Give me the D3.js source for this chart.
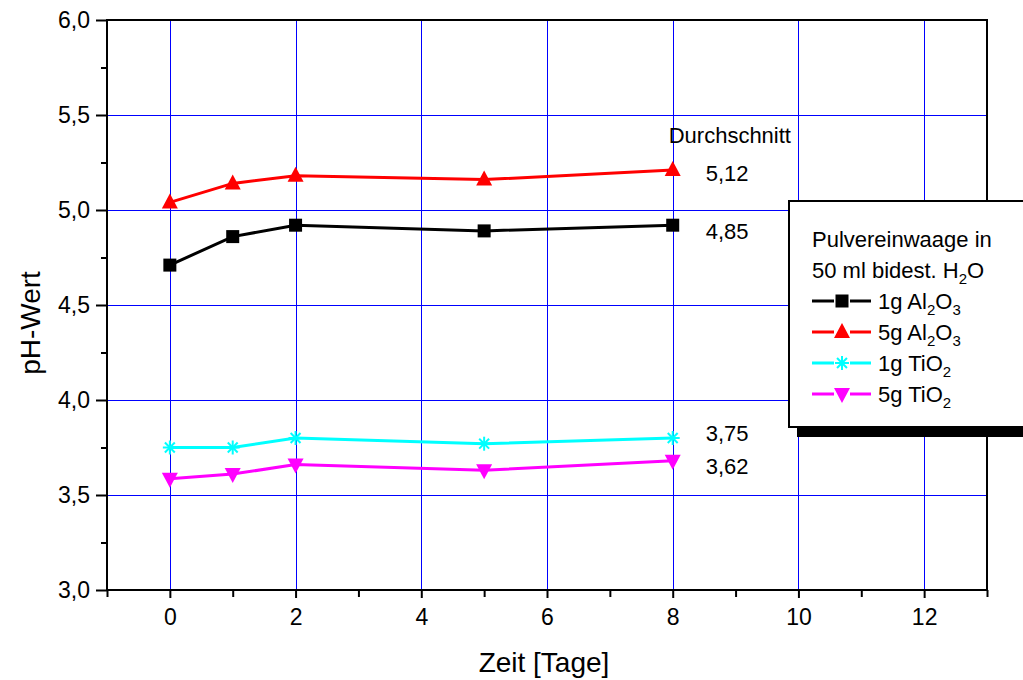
<!DOCTYPE html>
<html>
<head>
<meta charset="utf-8">
<script src="https://cdn.jsdelivr.net/npm/d3@7"></script>
<style>
  body { margin: 0; background: #fff; }
  svg { font-family: "Liberation Sans", Arial, sans-serif; }
</style>
</head>
<body>
<div id="chart"></div>
<script>
// data
const days = [0, 1, 2, 5, 8];
const al1g = [4.71, 4.86, 4.92, 4.89, 4.92];
const al5g = [5.04, 5.14, 5.18, 5.16, 5.21];
const ti1g = [3.75, 3.75, 3.80, 3.77, 3.80];
const ti5g = [3.585, 3.61, 3.66, 3.63, 3.68];
// averages printed next to the last point (label, baseline in pH units)
const averageLabels = ['5,12', '4,85', '3,75', '3,62'];
const averageBaselines = [5.155, 4.845, 3.785, 3.61];
const xTicks = [0, 2, 4, 6, 8, 10, 12];
const yTicks = [3.0, 3.5, 4.0, 4.5, 5.0, 5.5, 6.0];

const series = [
  { name: ['1g Al', '2', 'O', '3'], values: al1g, color: '#000000', symbol: 'square' },
  { name: ['5g Al', '2', 'O', '3'], values: al5g, color: '#ff0000', symbol: 'up' },
  { name: ['1g TiO', '2'], values: ti1g, color: '#00ffff', symbol: 'star' },
  { name: ['5g TiO', '2'], values: ti5g, color: '#ff00ff', symbol: 'down' }
];

const W = 1023, H = 680;
const margin = { top: 20, right: 36, bottom: 90, left: 107 };
const width = W - margin.left - margin.right;
const height = H - margin.top - margin.bottom;

const svg = d3.select('#chart').append('svg')
  .attr('width', W).attr('height', H);
const g = svg.append('g').attr('transform', `translate(${margin.left},${margin.top})`);

const x = d3.scaleLinear().domain([-1, 13]).range([0, width]);
const y = d3.scaleLinear().domain([3, 6]).range([height, 0]);

const fmt = d => d3.format('.1f')(d).replace('.', ',');

// grid
g.append('g').selectAll('line').data(xTicks).enter().append('line')
  .attr('x1', d => Math.round(x(d)) + 0.5).attr('x2', d => Math.round(x(d)) + 0.5)
  .attr('y1', 0).attr('y2', height)
  .attr('stroke', '#0000ff').attr('stroke-width', 1);
g.append('g').selectAll('line').data(yTicks.slice(1, -1)).enter().append('line')
  .attr('x1', 0).attr('x2', width)
  .attr('y1', d => Math.round(y(d)) + 0.5).attr('y2', d => Math.round(y(d)) + 0.5)
  .attr('stroke', '#0000ff').attr('stroke-width', 1);

// frame
g.append('rect').attr('x', 0).attr('y', 0).attr('width', width).attr('height', height)
  .attr('fill', 'none').attr('stroke', '#000').attr('stroke-width', 2);

// axes
g.append('g').attr('transform', `translate(0,${height})`)
  .call(d3.axisBottom(x).tickValues(xTicks).tickFormat(d3.format('d')).tickSize(8).tickPadding(11));
g.append('g').attr('transform', `translate(0,${height})`)
  .call(d3.axisBottom(x).tickValues(d3.range(-1, 14, 2)).tickFormat('').tickSize(7));
g.append('g')
  .call(d3.axisLeft(y).tickValues(yTicks).tickFormat(fmt).tickSize(11).tickPadding(6));
g.append('g')
  .call(d3.axisLeft(y).tickValues(d3.range(3.25, 6, 0.5)).tickFormat('').tickSize(6));
g.selectAll('.domain').remove();
g.selectAll('.tick line').attr('stroke', '#000').attr('stroke-width', 2);
g.selectAll('.tick text').attr('font-size', 23).attr('fill', '#000')
  .attr('font-family', '"Liberation Sans", Arial, sans-serif');

// axis titles
svg.append('text').attr('x', margin.left + x(6) - 3).attr('y', 672)
  .attr('text-anchor', 'middle').attr('font-size', 28).text('Zeit [Tage]');
svg.append('text').attr('transform', 'translate(40,323) rotate(-90)')
  .attr('text-anchor', 'middle').attr('font-size', 28).text('pH-Wert');

// markers
function drawMarker(sel, symbol, color) {
  if (symbol === 'square') {
    sel.append('rect').attr('x', -6.5).attr('y', -6.5).attr('width', 13).attr('height', 13).attr('fill', color);
  } else if (symbol === 'up') {
    sel.append('path').attr('d', 'M0,-9L8,6L-8,6Z').attr('fill', color);
  } else if (symbol === 'down') {
    sel.append('path').attr('d', 'M0,9L8,-6L-8,-6Z').attr('fill', color);
  } else {
    const r = 7;
    [0, 45, 90, 135].forEach(a => {
      const rad = a * Math.PI / 180;
      sel.append('line')
        .attr('x1', -r * Math.cos(rad)).attr('y1', -r * Math.sin(rad))
        .attr('x2', r * Math.cos(rad)).attr('y2', r * Math.sin(rad))
        .attr('stroke', color).attr('stroke-width', 2);
    });
  }
}

const line = d3.line().x(d => x(d[0])).y(d => y(d[1]));
series.forEach(s => {
  const pts = days.map((d, i) => [d, s.values[i]]);
  g.append('path').datum(pts).attr('d', line)
    .attr('fill', 'none').attr('stroke', s.color).attr('stroke-width', 3);
  pts.forEach(p => {
    const m = g.append('g').attr('transform', `translate(${x(p[0])},${y(p[1])})`);
    drawMarker(m, s.symbol, s.color);
  });
});

// averages
g.append('text').attr('x', x(8) - 4).attr('y', y(5.355)).attr('font-size', 22).text('Durchschnitt');
averageLabels.forEach((lab, i) => {
  g.append('text').attr('x', x(8) + 33).attr('y', y(averageBaselines[i])).attr('font-size', 22).text(lab);
});

// legend
const lg = svg.append('g').attr('transform', 'translate(789,201)');
lg.append('rect').attr('x', 8).attr('y', 8).attr('width', 260).attr('height', 228).attr('fill', '#000');
lg.append('rect').attr('x', 0).attr('y', 0).attr('width', 260).attr('height', 226)
  .attr('fill', '#fff').attr('stroke', '#000').attr('stroke-width', 2);
lg.append('text').attr('x', 23).attr('y', 46).attr('font-size', 22).text('Pulvereinwaage in');
const t2 = lg.append('text').attr('x', 23).attr('y', 77).attr('font-size', 22);
t2.append('tspan').text('50 ml bidest. H');
t2.append('tspan').attr('font-size', 15).attr('dy', 6).text('2');
t2.append('tspan').attr('dy', -6).text('O');

series.forEach((s, i) => {
  const yy = 100 + i * 31;
  lg.append('line').attr('x1', 23).attr('x2', 82).attr('y1', yy).attr('y2', yy)
    .attr('stroke', s.color).attr('stroke-width', 3);
  const m = lg.append('g').attr('transform', `translate(53,${yy})`);
  m.append('rect').attr('x', -8).attr('y', -9).attr('width', 16).attr('height', 18).attr('fill', '#fff');
  drawMarker(m, s.symbol, s.color);
  const t = lg.append('text').attr('x', 89).attr('y', yy + 8).attr('font-size', 22);
  s.name.forEach((part, j) => {
    const sub = j % 2 === 1;
    t.append('tspan').attr('font-size', sub ? 15 : 22)
      .attr('dy', j === 0 ? 0 : (sub ? 6 : -6)).text(part);
  });
});
</script>
</body>
</html>
